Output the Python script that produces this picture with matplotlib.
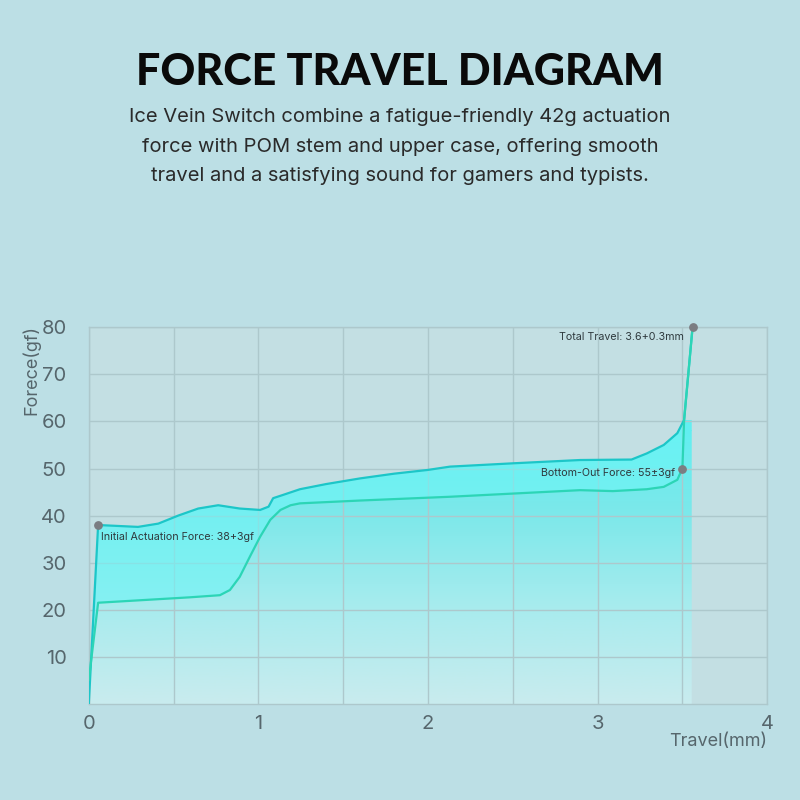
import numpy as np
import matplotlib
matplotlib.use("Agg")
import matplotlib.pyplot as plt
from matplotlib.patches import Polygon
from matplotlib.colors import LinearSegmentedColormap

# ---- data ----
press_x = [0.0, 0.055, 0.173, 0.29, 0.41, 0.527, 0.645, 0.763, 0.89, 1.01, 1.06, 1.087,
           1.146, 1.245, 1.40, 1.60, 1.80, 2.0, 2.13, 2.5, 2.897, 3.2, 3.29, 3.39, 3.47,
           3.51, 3.56]
press_y = [0.0, 38.0, 37.8, 37.6, 38.3, 40.0, 41.5, 42.2, 41.5, 41.2, 41.9, 43.7,
           44.4, 45.6, 46.7, 47.9, 48.9, 49.7, 50.4, 51.1, 51.8, 51.9, 53.2, 55.0, 57.5,
           60.3, 80.0]

release_x = [3.56, 3.51, 3.50, 3.47, 3.39, 3.29, 3.09, 2.897, 2.13, 1.6, 1.245, 1.19,
             1.13, 1.07, 1.01, 0.95, 0.89, 0.832, 0.773, 0.596, 0.055, 0.0]
release_y = [80.0, 60.3, 50.0, 47.6, 46.1, 45.6, 45.2, 45.4, 44.0, 43.2, 42.6, 42.2,
             41.2, 39.1, 35.5, 31.3, 27.0, 24.2, 23.1, 22.65, 21.5, 5.1]

markers_x = [0.055, 3.50, 3.56]
markers_y = [38.0, 50.0, 80.0]
annot_text = ["Initial Actuation Force: 38+3gf", "Bottom-Out Force: 55\u00b13gf",
              "Total Travel: 3.6+0.3mm"]

x_ticks = [0, 1, 2, 3, 4]
y_ticks = [10, 20, 30, 40, 50, 60, 70, 80]

title = "FORCE TRAVEL DIAGRAM"
subtitle = ["Ice Vein Switch combine a fatigue-friendly 42g actuation",
            "force with POM stem and upper case, offering smooth",
            "travel and a satisfying sound for gamers and typists."]

# ---- styling ----
FIG_BG = "#bcdfe5"
AX_BG = "#c3dfe3"
GRID = "#adc8cc"
TXT = "#56666c"
UP_C = "#1cc6c8"
LO_C = "#2cd5b6"

plt.rcParams["font.family"] = ["Inter", "DejaVu Sans"]

fig = plt.figure(figsize=(8, 8), dpi=100, facecolor=FIG_BG)
ax = fig.add_axes([0.111, 0.12, 0.848, 0.471], facecolor=AX_BG)
ax.set_xlim(0, 4)
ax.set_ylim(0, 80)

ax.set_xticks(x_ticks)
ax.set_xticks(np.arange(0, 4.01, 0.5), minor=True)
ax.set_yticks(y_ticks)
ax.grid(True, which="both", color=GRID, lw=1.0, zorder=0)
ax.tick_params(which="both", length=0)
ax.tick_params(axis="both", labelsize=14.5, labelcolor=TXT)
ax.tick_params(axis="y", pad=16)
ax.tick_params(axis="x", pad=8)
ax.set_xticklabels([str(t) for t in x_ticks])
ax.set_yticklabels([str(t) for t in y_ticks])
for s in ax.spines.values():
    s.set_color(GRID)
    s.set_linewidth(1.0)

# gradient fill under the press curve
px = np.array(press_x)
py = np.array(press_y)
poly_pts = [(px[i], py[i]) for i in range(len(px) - 1)] + [(3.555, py[-2]), (3.555, 0), (0, 0)]
clip = Polygon(poly_pts, closed=True, transform=ax.transData, facecolor="none", edgecolor="none")
ax.add_patch(clip)
cmap = LinearSegmentedColormap.from_list("g", [(0.0, "#c9ebee"), (0.35, "#a8ecee"),
                                               (0.7, "#7ce8ea"), (1.0, "#62eff1")])
grad = np.linspace(0, 1, 256).reshape(-1, 1)
im = ax.imshow(grad, cmap=cmap, origin="lower", extent=[0, 3.56, 0, 58], aspect="auto",
               zorder=1, interpolation="bicubic")
im.set_clip_path(clip)
top_fill = ax.fill_between([0, 3.56], 57.9, 62, color="#62eff1", zorder=0.9, lw=0)
top_fill.set_clip_path(clip)

# between curves overlay
rx = np.array(release_x)
ry = np.array(release_y)
between = [(px[i], py[i]) for i in range(len(px))] + [(rx[i], ry[i]) for i in range(len(rx))]
ax.add_patch(Polygon(between, closed=True, facecolor="#6ff5f6", edgecolor="none", alpha=0.6, zorder=2))

ax.plot(press_x, press_y, color=UP_C, lw=1.6, zorder=3, solid_joinstyle="round")
ax.plot(release_x, release_y, color=LO_C, lw=1.6, zorder=3, solid_joinstyle="round")
ax.scatter(markers_x, markers_y, s=28, color="#7b7d82", zorder=4, clip_on=False)

ax.text(0.07, 35.5, annot_text[0], fontsize=7.7, color="#2f3a3e", va="center", ha="left", zorder=5)
ax.text(3.46, 49.0, annot_text[1], fontsize=7.7, color="#2f3a3e", va="center", ha="right", zorder=5)
ax.text(3.51, 77.9, annot_text[2], fontsize=7.7, color="#2f3a3e", va="center", ha="right", zorder=5)

fig.text(31 / 800, 1 - 370 / 800, "Forece(gf)", rotation=90, fontsize=13, color=TXT,
         ha="center", va="center")
fig.text(767 / 800, 1 - 742 / 800, "Travel(mm)", fontsize=13, color=TXT, ha="right", va="center")

fig.text(0.5, 1 - 72 / 800, title, fontsize=31, fontweight="black", color="#0a0a0a",
         ha="center", va="center", family=["Lato", "DejaVu Sans"])
for i, line in enumerate(subtitle):
    fig.text(0.5, 1 - (117 + 29.5 * i) / 800, line, fontsize=14.5, color="#2a2a2a",
             ha="center", va="center")

fig.savefig("out.png", dpi=100, facecolor=FIG_BG)
